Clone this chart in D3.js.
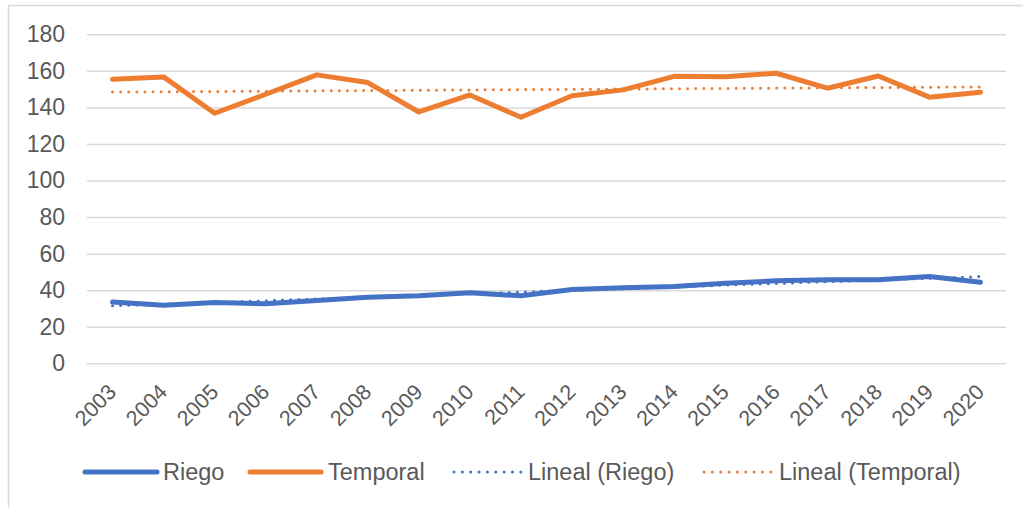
<!DOCTYPE html>
<html>
<head>
<meta charset="utf-8">
<script src="https://cdn.jsdelivr.net/npm/d3@7"></script>
<style>
  html, body { margin: 0; padding: 0; background: #ffffff; }
  svg { display: block; font-family: "Liberation Sans", Arial, sans-serif; }
</style>
</head>
<body>
<svg id="chart" width="1023" height="508"></svg>
<script>
// ---- data ----
const years = ["2003","2004","2005","2006","2007","2008","2009","2010","2011","2012","2013","2014","2015","2016","2017","2018","2019","2020"];
const riego = [33.5,31.8,33.3,32.6,34.4,36.2,36.9,38.6,36.9,40.4,41.3,42.0,43.8,45.1,45.7,45.7,47.5,44.4];
const temporal = [155.4,156.7,136.8,147.2,157.8,153.6,137.5,146.8,134.6,146.4,149.6,157.0,156.8,158.7,150.5,157.2,145.6,148.3];
const yTicks = [0,20,40,60,80,100,120,140,160,180];
const seriesNames = ["Riego","Temporal","Lineal (Riego)","Lineal (Temporal)"];

const BLUE = "#4472C4", ORANGE = "#ED7D31", TEXT = "#595959", GRID = "#d9d9d9";

const svg = d3.select("#chart");

// chart border
svg.append("rect").attr("x",8.5).attr("y",5.5).attr("width",1030).attr("height",520)
  .attr("fill","none").attr("stroke","#d9d9d9").attr("stroke-width",1.5);

const plotLeft = 87, plotRight = 1006, plotTop = 34.3, plotBottom = 363.3;

const x = d3.scaleBand().domain(years).range([plotLeft, plotRight]).paddingInner(0).paddingOuter(0);
const cx = d => x(d) + x.bandwidth()/2;
const y = d3.scaleLinear().domain([0,180]).range([plotBottom, plotTop]);

// gridlines
const yAxis = d3.axisLeft(y).tickValues(yTicks).tickSize(-(plotRight-plotLeft)).tickPadding(22);
const gy = svg.append("g").attr("transform",`translate(${plotLeft},0)`).call(yAxis);
gy.select(".domain").remove();
gy.selectAll(".tick line").attr("stroke",GRID).attr("stroke-width",1.5);
gy.selectAll(".tick text").attr("fill",TEXT).attr("font-size",23)
  .attr("font-family","Liberation Sans, Arial, sans-serif");

// x labels
const xAxis = d3.axisBottom(x).tickSize(0);
const gx = svg.append("g").attr("transform",`translate(0,${plotBottom})`).call(xAxis);
gx.select(".domain").remove();
gx.selectAll(".tick text")
  .attr("fill",TEXT).attr("font-size",21.5)
  .attr("font-family","Liberation Sans, Arial, sans-serif")
  .attr("text-anchor","end")
  .attr("dy",null).attr("y",null)
  .attr("transform","translate(5,30) rotate(-45)");

// linear regression trend
function trend(vals){
  const xs = vals.map((_,i)=>i+1);
  const mx = d3.mean(xs), my = d3.mean(vals);
  let num=0, den=0;
  xs.forEach((xi,i)=>{ num += (xi-mx)*(vals[i]-my); den += (xi-mx)*(xi-mx); });
  const b = num/den, a = my - b*mx;
  return xs.map(xi => a + b*xi);
}

const line = d3.line().x((d,i)=>cx(years[i])).y(d=>y(d));

// trend lines (drawn under main lines)
svg.append("path").datum(trend(riego)).attr("d",line)
  .attr("fill","none").attr("stroke",BLUE).attr("stroke-width",3)
  .attr("stroke-linecap","round").attr("stroke-dasharray","0 8.1");
svg.append("path").datum(trend(temporal)).attr("d",line)
  .attr("fill","none").attr("stroke",ORANGE).attr("stroke-width",3)
  .attr("stroke-linecap","round").attr("stroke-dasharray","0 8.1");

// main lines
svg.append("path").datum(riego).attr("d",line)
  .attr("fill","none").attr("stroke",BLUE).attr("stroke-width",5)
  .attr("stroke-linecap","round").attr("stroke-linejoin","round");
svg.append("path").datum(temporal).attr("d",line)
  .attr("fill","none").attr("stroke",ORANGE).attr("stroke-width",5)
  .attr("stroke-linecap","round").attr("stroke-linejoin","round");

// legend
const legendY = 472;
const legendItems = [
  {name: seriesNames[0], color: BLUE, dotted: false, x0: 85, x1: 157, tx: 163},
  {name: seriesNames[1], color: ORANGE, dotted: false, x0: 250, x1: 321, tx: 328},
  {name: seriesNames[2], color: BLUE, dotted: true, x0: 454, x1: 521, tx: 528},
  {name: seriesNames[3], color: ORANGE, dotted: true, x0: 704, x1: 771, tx: 779}
];
const lg = svg.append("g");
legendItems.forEach(it => {
  const l = lg.append("line").attr("x1",it.x0).attr("x2",it.x1).attr("y1",legendY).attr("y2",legendY)
    .attr("stroke",it.color).attr("stroke-linecap","round");
  if (it.dotted) l.attr("stroke-width",3).attr("stroke-dasharray","0 8.35");
  else l.attr("stroke-width",5);
  lg.append("text").attr("x",it.tx).attr("y",legendY).attr("dy","0.35em")
    .attr("fill",TEXT).attr("font-size",23.5).text(it.name);
});
</script>
</body>
</html>
